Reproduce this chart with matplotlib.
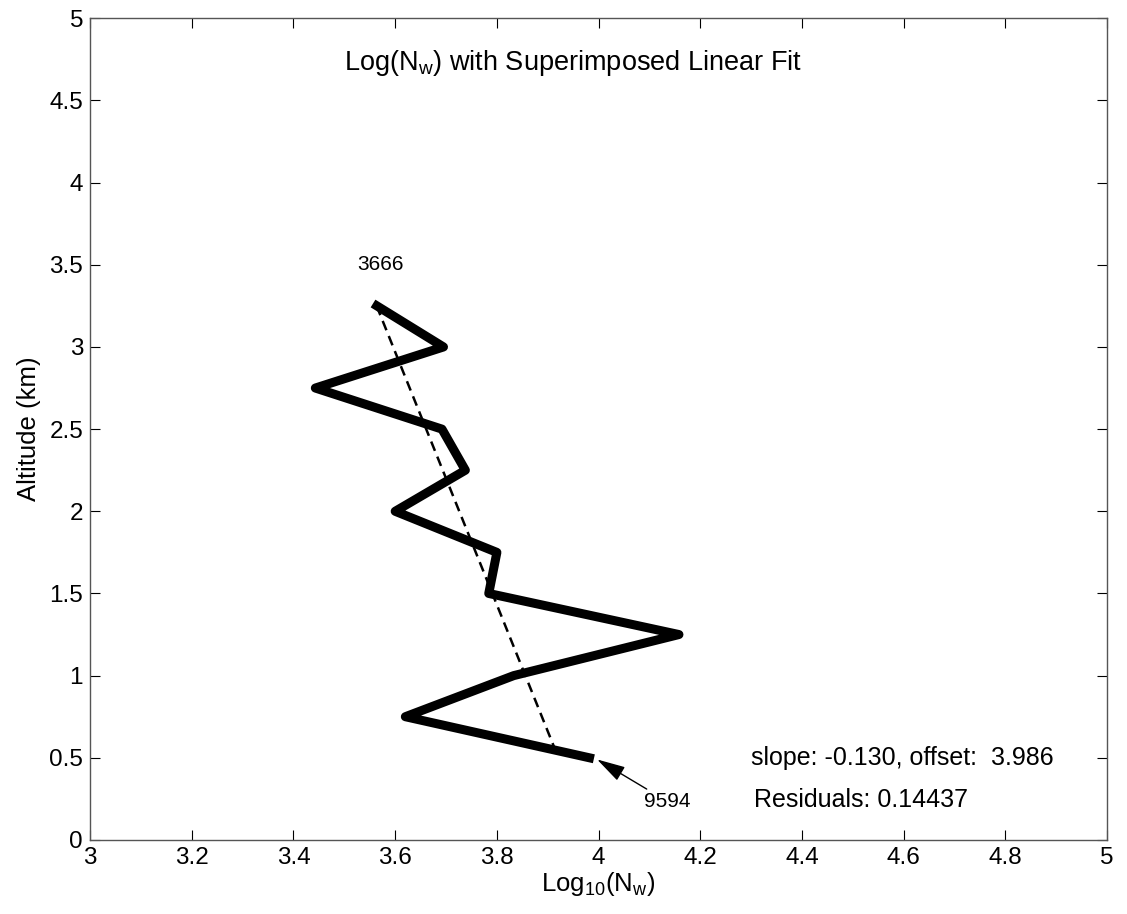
import numpy as np
import matplotlib.pyplot as plt
from matplotlib.ticker import FormatStrFormatter

plt.rcParams['font.family'] = ['Liberation Sans', 'DejaVu Sans']

# altitude (km) and log10 of Nw
altitude = [3.25, 3.0, 2.75, 2.5, 2.25, 2.0, 1.75, 1.5, 1.25, 1.0, 0.75, 0.5]
log_nw = [3.564, 3.695, 3.443, 3.692, 3.738, 3.600, 3.800, 3.784, 4.158, 3.833, 3.620, 3.982]

slope = -0.130
offset = 3.986
residuals = 0.14437
top_label = "3666"
bottom_label = "9594"

fig = plt.figure(figsize=(11.27, 9.14), dpi=100)
ax = fig.add_axes([0.0799, 0.081, 0.9025, 0.899])

ax.plot(log_nw, altitude, color='black', lw=6.5)
fit_alt = np.array([altitude[0], altitude[-1]])
ax.plot(offset + slope * fit_alt, fit_alt, color='black', lw=1.8, ls=(0, (4, 2.5)))

ax.text(3.571, 3.50, top_label, fontsize=15, ha='center', va='center')
ax.annotate(bottom_label, xy=(log_nw[-1] + 0.015, altitude[-1] - 0.01),
            xytext=(4.135, 0.235), fontsize=15, ha='center', va='center',
            arrowprops=dict(arrowstyle='-|>,head_length=0.8,head_width=0.22', color='black',
                            lw=1.0, mutation_scale=22, shrinkA=0, shrinkB=0))

ax.text(4.30, 0.50, f"slope: {slope:.3f}, offset:  {offset:.3f}", fontsize=18, va='center')
ax.text(4.305, 0.245, f"Residuals: {residuals}", fontsize=18, va='center')
ax.text(3.95, 4.73, r"Log(N$_\mathregular{w}$) with Superimposed Linear Fit",
        fontsize=19.5, ha='center', va='center')

ax.set_xlim(3, 5)
ax.set_ylim(0, 5)
ax.set_xticks(np.arange(3, 5.01, 0.2))
ax.set_yticks(np.arange(0, 5.01, 0.5))
ax.xaxis.set_major_formatter(FormatStrFormatter('%g'))
ax.yaxis.set_major_formatter(FormatStrFormatter('%g'))
ax.tick_params(direction='in', top=True, right=True, labelsize=17.5, length=7, width=0.8, pad=5)
for s in ax.spines.values():
    s.set_color('#555555')
    s.set_linewidth(1.0)

ax.set_xlabel(r"Log$_\mathregular{10}$(N$_\mathregular{w}$)", fontsize=18.5, labelpad=1)
ax.set_ylabel("Altitude (km)", fontsize=18.5, labelpad=6)

fig.savefig("out.png", dpi=100)
